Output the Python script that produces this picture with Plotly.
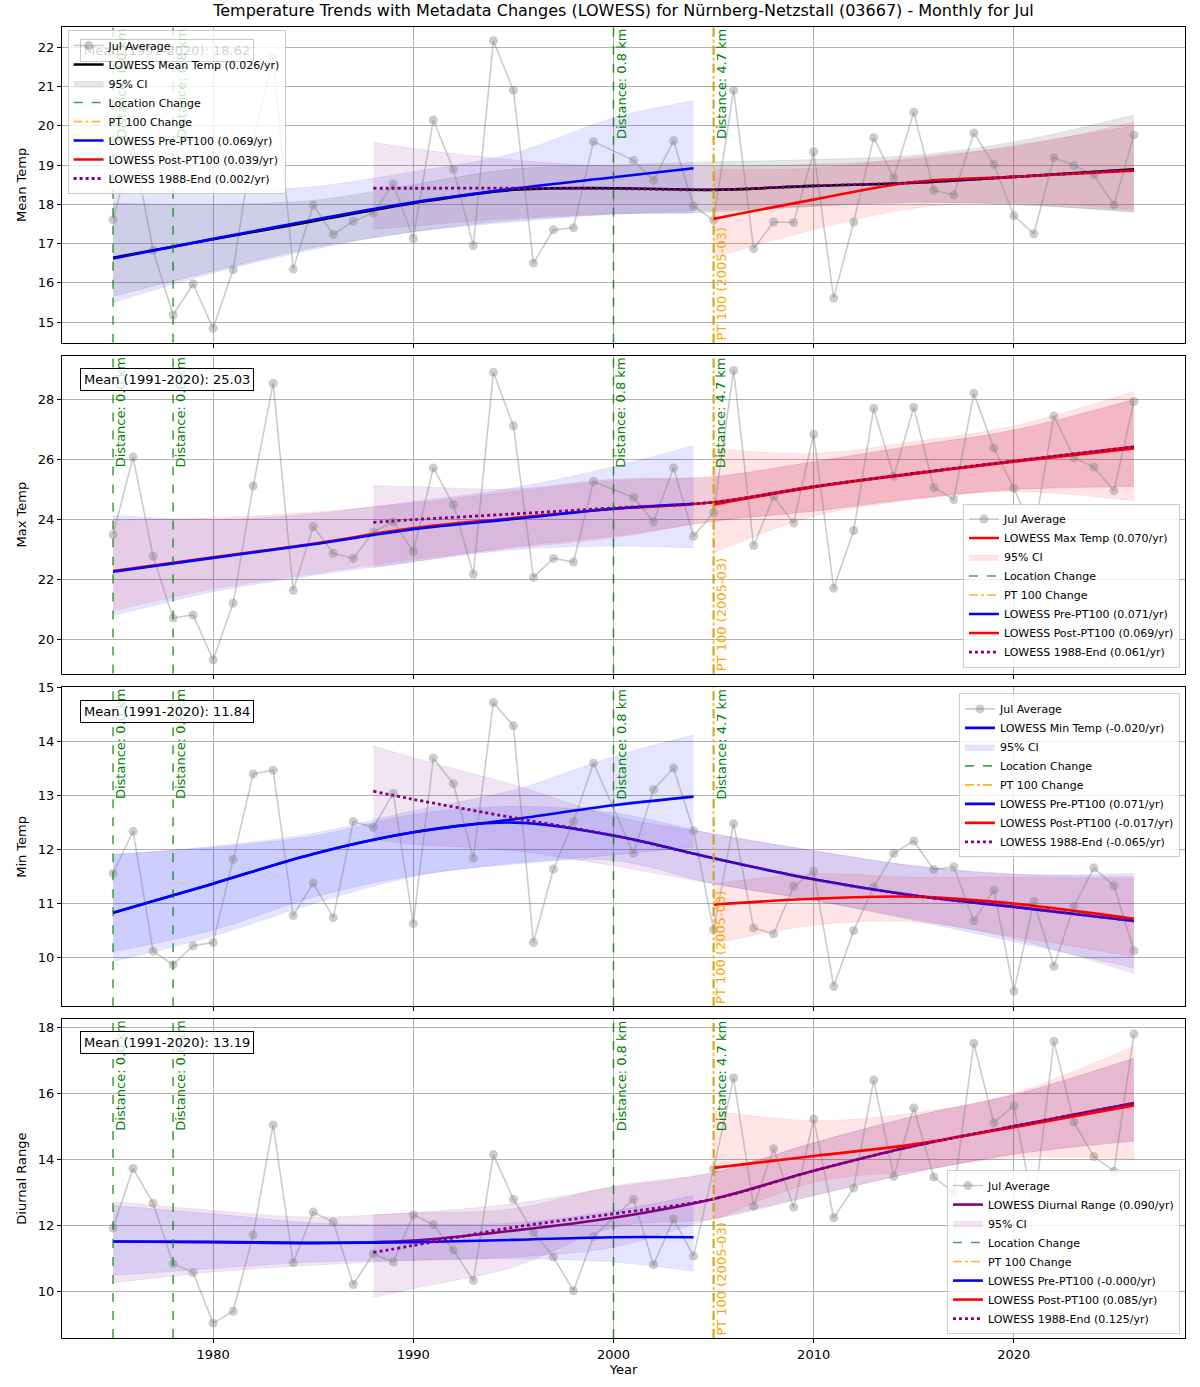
import plotly.graph_objects as go
from plotly.subplots import make_subplots

# Jul averages, station 03667 (2000 missing)
years = list(range(1975, 2000)) + list(range(2001, 2027))

mean_temp = [17.61, 19.50, 16.83, 15.18, 15.97, 14.84, 16.33, 19.60, 21.75, 16.35,
             17.98, 17.23, 17.57, 17.78, 18.52, 17.13, 20.15, 18.89, 16.95, 22.17,
             20.91, 16.50, 17.35, 17.40, 19.60,
             19.12, 18.61, 19.62, 17.96, 17.59, 20.91, 16.87, 17.55, 17.54, 19.34,
             15.61, 17.55, 19.70, 18.67, 20.35, 18.36, 18.24, 19.82, 19.02, 17.71,
             17.25, 19.19, 18.99, 18.75, 17.98, 19.77]
max_temp = [23.50, 26.08, 22.78, 20.73, 20.83, 19.34, 21.22, 25.12, 28.53, 21.65,
            23.77, 22.88, 22.71, 23.59, 23.93, 22.94, 25.72, 24.50, 22.19, 28.90,
            27.12, 22.08, 22.71, 22.59, 25.27,
            24.74, 23.93, 25.72, 23.45, 24.23, 28.96, 23.14, 24.76, 23.89, 26.84,
            21.72, 23.64, 27.70, 25.44, 27.74, 25.07, 24.67, 28.20, 26.38, 25.04,
            23.53, 27.45, 26.06, 25.75, 24.96, 27.93]
min_temp = [11.56, 12.34, 10.12, 9.87, 10.22, 10.28, 11.82, 13.40, 13.47, 10.78,
            11.38, 10.74, 12.52, 12.41, 13.04, 10.63, 13.69, 13.22, 11.84, 14.72,
            14.29, 10.28, 11.64, 12.52, 13.60,
            11.93, 13.11, 13.51, 12.35, 10.52, 12.48, 10.55, 10.44, 11.32, 11.60,
            9.47, 10.50, 11.31, 11.93, 12.16, 11.63, 11.68, 10.68, 11.25, 9.38,
            11.04, 9.84, 10.95, 11.66, 11.33, 10.13]
diurnal = [11.93, 13.73, 12.68, 10.85, 10.58, 9.05, 9.41, 11.72, 15.05, 10.88,
           12.41, 12.11, 10.22, 11.15, 10.90, 12.33, 12.03, 11.26, 10.34, 14.15,
           12.80, 11.80, 11.05, 10.03, 11.67,
           12.80, 10.82, 12.20, 11.08, 13.72, 16.47, 12.59, 14.33, 12.56, 15.23,
           12.24, 13.14, 16.41, 13.49, 15.56, 13.47, 13.00, 17.52, 15.11, 15.63,
           12.49, 17.58, 15.14, 14.09, 13.65, 17.80]

full_knots = [1975, 1980, 1985, 1990, 1995, 2000, 2005, 2010, 2015, 2020, 2026]
pre_knots = [1975, 1980, 1985, 1990, 1995, 2000, 2004]
post_knots = [2005, 2010, 2015, 2020, 2026]
late_knots = [1988, 1990, 1995, 2000, 2005, 2010, 2015, 2020, 2026]

# mean temp curves
mean_full = [16.64, 17.11, 17.57, 18.03, 18.37, 18.41, 18.37, 18.47, 18.55, 18.70, 18.89]
mean_full_lo = [15.65, 16.30, 16.90, 17.30, 17.60, 17.75, 17.80, 17.95, 18.05, 18.00, 17.80]
mean_full_hi = [18.03, 18.00, 18.10, 18.50, 18.90, 19.00, 19.08, 19.14, 19.25, 19.59, 20.28]
mean_pre = [16.62, 17.12, 17.60, 18.05, 18.40, 18.69, 18.92]
mean_pre_lo = [15.50, 16.25, 16.85, 17.30, 17.55, 17.75, 17.78]
mean_pre_hi = [18.39, 18.35, 18.45, 18.83, 19.30, 20.20, 20.64]
mean_post = [17.63, 18.12, 18.57, 18.70, 18.86]
mean_post_lo = [16.64, 17.36, 17.90, 18.05, 17.87]
mean_post_hi = [18.89, 18.92, 19.20, 19.46, 20.10]
mean_late = [18.41, 18.41, 18.41, 18.40, 18.37, 18.47, 18.55, 18.70, 18.88]
mean_late_lo = [17.36, 17.45, 17.65, 17.78, 17.85, 17.95, 18.05, 18.00, 17.82]
mean_late_hi = [19.58, 19.42, 19.13, 18.97, 18.97, 19.02, 19.15, 19.50, 20.00]

# max temp curves
max_full = [22.29, 22.75, 23.20, 23.72, 24.05, 24.36, 24.58, 25.10, 25.54, 25.95, 26.42]
max_full_lo = [20.97, 21.69, 22.20, 22.68, 23.05, 23.40, 23.95, 24.28, 24.70, 25.00, 25.10]
max_full_hi = [23.98, 24.06, 24.25, 24.55, 24.94, 25.30, 25.43, 25.93, 26.46, 26.98, 28.00]
max_pre = [22.27, 22.73, 23.18, 23.68, 24.02, 24.36, 24.53]
max_pre_lo = [20.80, 21.60, 22.15, 22.60, 23.00, 23.12, 23.06]
max_pre_hi = [24.15, 24.00, 24.20, 24.60, 25.05, 25.76, 26.46]
max_post = [24.50, 25.08, 25.52, 25.93, 26.37]
max_post_lo = [22.90, 24.11, 24.66, 24.94, 24.63]
max_post_hi = [26.37, 26.20, 26.59, 27.12, 28.26]
max_late = [23.91, 24.00, 24.19, 24.39, 24.58, 25.10, 25.54, 25.95, 26.42]
max_late_lo = [22.40, 22.60, 23.10, 23.45, 23.95, 24.28, 24.70, 25.00, 25.10]
max_late_hi = [25.13, 25.10, 25.02, 25.35, 25.43, 25.93, 26.46, 26.98, 28.00]

# min temp curves
min_full = [10.83, 11.37, 11.92, 12.32, 12.50, 12.26, 11.84, 11.45, 11.15, 10.94, 10.68]
min_full_lo = [10.11, 10.51, 11.12, 11.52, 11.73, 11.80, 11.37, 11.06, 10.69, 10.30, 9.81]
min_full_hi = [11.91, 12.04, 12.25, 12.65, 12.80, 12.68, 12.29, 11.98, 11.70, 11.54, 11.56]
min_pre = [10.83, 11.37, 11.92, 12.32, 12.56, 12.82, 12.98]
min_pre_lo = [9.93, 10.40, 11.00, 11.50, 11.75, 11.90, 12.05]
min_pre_hi = [11.91, 12.06, 12.30, 12.72, 13.10, 13.72, 14.12]
min_post = [10.98, 11.09, 11.13, 11.00, 10.72]
min_post_lo = [10.26, 10.60, 10.67, 10.39, 10.02]
min_post_hi = [11.37, 11.55, 11.49, 11.49, 11.46]
min_late = [13.08, 12.93, 12.59, 12.26, 11.84, 11.45, 11.15, 10.94, 10.68]
min_late_lo = [12.19, 12.10, 11.98, 11.70, 11.37, 11.06, 10.72, 10.35, 9.71]
min_late_hi = [13.92, 13.70, 13.20, 12.62, 12.29, 11.98, 11.70, 11.55, 11.50]

# diurnal range curves
dtr_full = [11.52, 11.50, 11.47, 11.55, 11.85, 12.24, 12.81, 13.66, 14.41, 15.01, 15.71]
dtr_full_lo = [10.27, 10.60, 10.80, 10.95, 11.05, 11.35, 12.21, 12.91, 13.61, 14.16, 14.56]
dtr_full_hi = [12.73, 12.46, 12.26, 12.40, 12.66, 13.16, 13.61, 14.51, 15.31, 15.96, 17.07]
dtr_pre = [11.52, 11.51, 11.48, 11.50, 11.57, 11.65, 11.65]
dtr_pre_lo = [10.50, 10.70, 10.90, 10.95, 11.00, 10.90, 10.62]
dtr_pre_hi = [12.61, 12.36, 12.08, 12.04, 12.08, 12.45, 12.91]
dtr_post = [13.75, 14.11, 14.46, 14.98, 15.64]
dtr_post_lo = [12.16, 13.31, 13.66, 14.06, 14.01]
dtr_post_hi = [15.48, 15.18, 15.41, 16.01, 17.44]
dtr_late = [11.19, 11.40, 11.95, 12.36, 12.81, 13.66, 14.41, 15.01, 15.71]
dtr_late_lo = [9.83, 10.10, 10.75, 11.95, 12.21, 12.91, 13.61, 14.16, 14.56]
dtr_late_hi = [12.33, 12.38, 12.51, 13.20, 13.61, 14.51, 15.31, 15.96, 17.07]

loc_years = [1975, 1978, 2000, 2005]
loc_labels = ["Distance: 0.0 km", "Distance: 0.8 km", "Distance: 0.8 km", "Distance: 4.7 km"]
pt100_year = 2005
pt100_label = "PT 100 (2005-03)"

panel_names = ["Mean Temp", "Max Temp", "Min Temp", "Diurnal Range"]
panel_means = [18.62, 25.03, 11.84, 13.19]
full_slopes = ["0.026", "0.070", "-0.020", "0.090"]
pre_slopes = ["0.069", "0.071", "0.071", "-0.000"]
post_slopes = ["0.039", "0.069", "-0.017", "0.085"]
late_slopes = ["0.002", "0.061", "-0.065", "0.125"]

panels = [
    (mean_temp, mean_full, mean_full_lo, mean_full_hi, mean_pre, mean_pre_lo, mean_pre_hi,
     mean_post, mean_post_lo, mean_post_hi, mean_late, mean_late_lo, mean_late_hi),
    (max_temp, max_full, max_full_lo, max_full_hi, max_pre, max_pre_lo, max_pre_hi,
     max_post, max_post_lo, max_post_hi, max_late, max_late_lo, max_late_hi),
    (min_temp, min_full, min_full_lo, min_full_hi, min_pre, min_pre_lo, min_pre_hi,
     min_post, min_post_lo, min_post_hi, min_late, min_late_lo, min_late_hi),
    (diurnal, dtr_full, dtr_full_lo, dtr_full_hi, dtr_pre, dtr_pre_lo, dtr_pre_hi,
     dtr_post, dtr_post_lo, dtr_post_hi, dtr_late, dtr_late_lo, dtr_late_hi),
]

main_colors = ["black", "red", "blue", "purple"]
main_fills = ["rgba(128,128,128,0.2)", "rgba(255,0,0,0.1)", "rgba(0,0,255,0.1)", "rgba(128,0,128,0.1)"]
y_ranges = [[14.47, 22.52], [18.88, 29.45], [9.1, 15.0], [8.6, 18.25]]
y_dticks = [1, 2, 1, 2]
domains = [[0.7591, 1.0], [0.5068, 0.7492], [0.2530, 0.4962], [0.0, 0.2432]]

FONT = "DejaVu Sans"
GREEN = "rgba(0,128,0,0.72)"
ORANGE = "rgba(255,165,0,0.85)"

fig = make_subplots(rows=4, cols=1, shared_xaxes=True)


def band(r, knots, lo, hi, color, name, leg, show, rank):
    # lower edge first, then the upper edge filled down to it
    fig.add_trace(go.Scatter(
        x=knots, y=lo, mode="lines", line=dict(color=color, width=0.8, shape="spline"),
        showlegend=False, legend=leg, hoverinfo="skip"), row=r, col=1)
    fig.add_trace(go.Scatter(
        x=knots, y=hi, mode="lines", fill="tonexty", fillcolor=color,
        line=dict(color=color, width=0.8, shape="spline"), name=name,
        showlegend=show, legend=leg, legendrank=rank, hoverinfo="skip"), row=r, col=1)


def curve(r, knots, vals, color, name, leg, rank, dash="solid", width=2.6):
    fig.add_trace(go.Scatter(
        x=knots, y=vals, mode="lines", name=name, legend=leg, legendrank=rank,
        line=dict(color=color, width=width, dash=dash, shape="spline")), row=r, col=1)


for i, p in enumerate(panels):
    r = i + 1
    leg = "legend" if r == 1 else "legend%d" % r
    (vals, full, full_lo, full_hi, pre, pre_lo, pre_hi,
     post, post_lo, post_hi, late, late_lo, late_hi) = p

    band(r, full_knots, full_lo, full_hi, main_fills[i], "95% CI", leg, True, 3)
    band(r, pre_knots, pre_lo, pre_hi, "rgba(0,0,255,0.1)", "pre CI", leg, False, 20)
    band(r, post_knots, post_lo, post_hi, "rgba(255,0,0,0.1)", "post CI", leg, False, 20)
    band(r, late_knots, late_lo, late_hi, "rgba(128,0,128,0.1)", "late CI", leg, False, 20)

    fig.add_trace(go.Scatter(
        x=years, y=vals, mode="lines+markers", name="Jul Average", legend=leg, legendrank=1,
        line=dict(color="rgba(128,128,128,0.4)", width=1.6),
        marker=dict(size=9, color="rgba(128,128,128,0.4)")), row=r, col=1)

    curve(r, full_knots, full, main_colors[i],
          "LOWESS %s (%s/yr)" % (panel_names[i], full_slopes[i]), leg, 2)

    fig.add_trace(go.Scatter(x=[None], y=[None], mode="lines", name="Location Change",
                             legend=leg, legendrank=4,
                             line=dict(color=GREEN, width=1.6, dash="dash")), row=r, col=1)
    fig.add_trace(go.Scatter(x=[None], y=[None], mode="lines", name="PT 100 Change",
                             legend=leg, legendrank=5,
                             line=dict(color=ORANGE, width=1.6, dash="dashdot")), row=r, col=1)

    curve(r, pre_knots, pre, "blue", "LOWESS Pre-PT100 (%s/yr)" % pre_slopes[i], leg, 6)
    curve(r, post_knots, post, "red", "LOWESS Post-PT100 (%s/yr)" % post_slopes[i], leg, 7)
    curve(r, late_knots, late, "purple", "LOWESS 1988-End (%s/yr)" % late_slopes[i], leg, 8,
          dash="dot", width=2.8)

    yref = "y" if r == 1 else "y%d" % r
    xref = "x" if r == 1 else "x%d" % r
    for yr, lab in zip(loc_years, loc_labels):
        fig.add_shape(type="line", x0=yr, x1=yr, y0=0, y1=1, xref=xref, yref=yref + " domain",
                      line=dict(color=GREEN, width=1.6, dash="dash"))
        # in the top panel the early labels sit behind the legend box
        faded = r == 1 and yr < 1990
        fig.add_annotation(x=yr, y=1, xref=xref, yref=yref + " domain", text=lab,
                           textangle=-90, showarrow=False, xanchor="left", yanchor="top",
                           xshift=-2,
                           font=dict(family=FONT, size=13,
                                     color="rgba(0,128,0,0.25)" if faded else "green"))
    fig.add_shape(type="line", x0=pt100_year, x1=pt100_year, y0=0, y1=1, xref=xref,
                  yref=yref + " domain", line=dict(color=ORANGE, width=1.8, dash="dashdot"))
    fig.add_annotation(x=pt100_year, y=0, xref=xref, yref=yref + " domain", text=pt100_label,
                       textangle=-90, showarrow=False, xanchor="left", yanchor="bottom",
                       xshift=-2, font=dict(family=FONT, size=13, color="orange"))

    if r == 1:
        box_font, box_line, box_bg = "rgba(0,0,0,0.2)", "rgba(0,0,0,0.2)", "rgba(0,0,0,0)"
    else:
        box_font, box_line, box_bg = "black", "black", "rgba(255,255,255,0.8)"
    fig.add_annotation(x=0.016, y=0.962, xref=xref + " domain", yref=yref + " domain",
                       text="Mean (1991-2020): %.2f" % panel_means[i], showarrow=False,
                       xanchor="left", yanchor="top", bgcolor=box_bg,
                       bordercolor=box_line, borderwidth=1, borderpad=3,
                       font=dict(family=FONT, size=13, color=box_font))

    fig.update_yaxes(title_text=panel_names[i], range=y_ranges[i], dtick=y_dticks[i],
                     domain=domains[i], row=r, col=1)

axis_style = dict(showline=True, mirror=True, linecolor="black", linewidth=1,
                  ticks="outside", ticklen=4, tickcolor="black", showgrid=True,
                  gridcolor="#b0b0b0", gridwidth=0.8, zeroline=False,
                  tickfont=dict(family=FONT, size=13, color="black"),
                  title_font=dict(family=FONT, size=13, color="black"))
fig.update_xaxes(range=[1972.45, 2028.55], dtick=10, tick0=1980, **axis_style)
fig.update_yaxes(title_standoff=8, automargin=False, **axis_style)
fig.update_xaxes(title_text="Year", title_standoff=4, row=4, col=1)

leg_style = dict(bgcolor="rgba(255,255,255,0.8)", bordercolor="#cccccc", borderwidth=1,
                 font=dict(family=FONT, size=11, color="black"), tracegroupgap=0,
                 itemwidth=30, traceorder="normal")
fig.update_layout(
    width=1200, height=1387,
    margin=dict(l=62, r=15, t=27, b=40),
    paper_bgcolor="white", plot_bgcolor="white",
    title=dict(text="Temperature Trends with Metadata Changes (LOWESS) for Nürnberg-Netzstall (03667) - Monthly for Jul",
               x=0.5, xref="paper", y=0.9928, yanchor="middle",
               font=dict(family=FONT, size=16, color="black")),
    legend=dict(x=0.005, y=0.9977, xanchor="left", yanchor="top", **leg_style),
    legend2=dict(x=0.9955, y=0.5114, xanchor="right", yanchor="bottom", **leg_style),
    legend3=dict(x=0.9955, y=0.4917, xanchor="right", yanchor="top", **leg_style),
    legend4=dict(x=0.9955, y=0.003, xanchor="right", yanchor="bottom", **leg_style),
)

fig.write_html("out.html", config={"displayModeBar": False},
               post_script="document.body.style.margin='0';")
